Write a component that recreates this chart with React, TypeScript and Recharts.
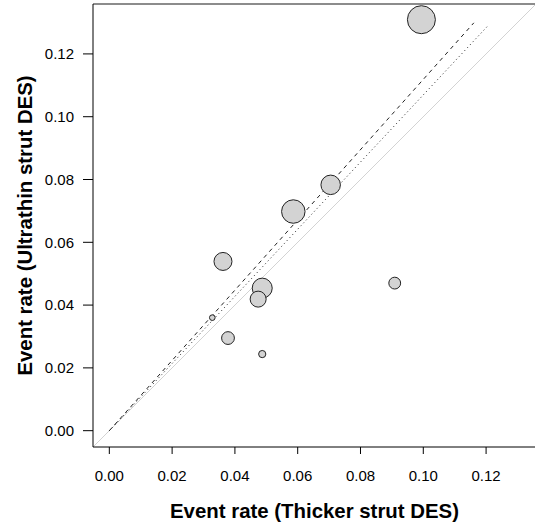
import { ScatterChart, Scatter, XAxis, YAxis, ZAxis, ReferenceLine } from "recharts"

// event rates per study (thicker strut vs ultrathin strut)
const thickerRate = [0.0994, 0.0705, 0.0586, 0.0362, 0.0487, 0.0474, 0.0328, 0.0378, 0.0487, 0.0909]
const ultrathinRate = [0.1309, 0.0783, 0.0698, 0.0539, 0.0454, 0.0419, 0.036, 0.0295, 0.0244, 0.047]
const studyWeight = [196, 95, 138, 81, 100, 64, 8, 41, 13, 35]

const axisTicks = [0, 0.02, 0.04, 0.06, 0.08, 0.1, 0.12]
const axisMin = -0.0052
const axisMax = 0.1359

// fitted lines through the origin
const dashedFit = [
  { x: 0, y: 0 },
  { x: 0.1161, y: 0.1299 },
]
const dottedFit = [
  { x: 0, y: 0 },
  { x: 0.1209, y: 0.1293 },
]

const points = thickerRate.map((x, i) => ({ x, y: ultrathinRate[i], w: studyWeight[i] }))

const font = "'Liberation Sans', Arial, Helvetica, sans-serif"

export default function App() {
  return (
    <div style={{ position: "absolute", left: 0, top: 0, width: 535, height: 529, overflow: "hidden", background: "#fff" }}>
      <ScatterChart width={536} height={529} margin={{ top: 4, right: 0, left: 0, bottom: 0 }} style={{ fontFamily: font }}>
        <XAxis
          type="number"
          dataKey="x"
          domain={[axisMin, axisMax]}
          ticks={axisTicks}
          tickFormatter={(v: number) => v.toFixed(2)}
          allowDataOverflow
          height={82}
          tickSize={7}
          tickMargin={16}
          axisLine={{ stroke: "#000" }}
          tickLine={{ stroke: "#000" }}
          tick={{ fill: "#000", fontSize: 15 }}
          label={{
            value: "Event rate (Thicker strut DES)",
            position: "insideBottom",
            offset: 11,
            style: { fill: "#000", fontSize: 20.4, fontWeight: "bold" },
          }}
        />
        <YAxis
          type="number"
          dataKey="y"
          domain={[axisMin, axisMax]}
          ticks={axisTicks}
          tickFormatter={(v: number) => v.toFixed(2)}
          allowDataOverflow
          width={93}
          tickSize={10}
          tickMargin={9}
          axisLine={{ stroke: "#000" }}
          tickLine={{ stroke: "#000" }}
          tick={{ fill: "#000", fontSize: 15 }}
          label={{
            value: "Event rate (Ultrathin strut DES)",
            angle: -90,
            position: "insideLeft",
            offset: 25,
            style: { fill: "#000", fontSize: 20.4, fontWeight: "bold", textAnchor: "middle" },
          }}
        />
        <ZAxis type="number" dataKey="w" domain={[0, 200]} range={[0, 628]} />
        <ReferenceLine y={axisMax} stroke="#666" strokeWidth={1.5} />
        <ReferenceLine
          segment={[
            { x: axisMin, y: axisMin },
            { x: axisMax, y: axisMax },
          ]}
          stroke="#d3d3d3"
        />
        <Scatter data={points} fill="#d3d3d3" stroke="#222" strokeWidth={1} isAnimationActive={false} />
        <ReferenceLine segment={dashedFit} stroke="#222" strokeDasharray="4 4" />
        <ReferenceLine segment={dottedFit} stroke="#222" strokeDasharray="1 3" />
      </ScatterChart>
    </div>
  )
}
